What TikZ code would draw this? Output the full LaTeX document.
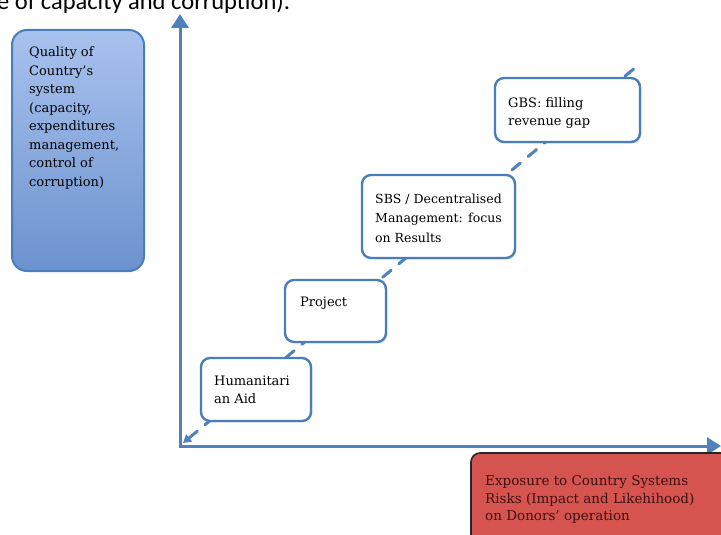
\documentclass[tikz,border=0pt]{standalone}
\usepackage{fontspec}
\setmainfont{DejaVu Serif}
\newfontfamily\topfont{Carlito}
\usetikzlibrary{arrows.meta,shadows}
\definecolor{axisblue}{RGB}{79,129,189}
\definecolor{boxblue}{RGB}{74,126,187}
\definecolor{lboxtop}{RGB}{168,194,238}
\definecolor{lboxbot}{RGB}{108,146,206}
\definecolor{redfill}{RGB}{214,84,80}
\definecolor{redtext}{RGB}{60,15,15}
\tikzset{
  axisline/.style={draw=axisblue, line width=3pt, -{Triangle[length=14pt,width=17pt]}},
  stepline/.style={draw=axisblue, line width=3pt, dash pattern=on 11pt off 10pt, line cap=round},
  wbox/.style={draw=boxblue, line width=2.4pt, fill=white, rounded corners=9pt, inner sep=0pt,
    drop shadow={opacity=0.18, shadow xshift=1.5pt, shadow yshift=-1.5pt}},
  txt/.style={align=left, inner sep=0pt, anchor=north west, text=black, font=\fontsize{13}{18}\selectfont},
}
\begin{document}
\begin{tikzpicture}[x=1pt,y=-1pt]
\useasboundingbox (0,0) rectangle (721,535);
% partial text at top
\node[anchor=base west, inner sep=0pt, font=\topfont\fontsize{24.5}{28}\selectfont] (toptxt) at (-3,10) {e of capacity and corruption).};
% axes
\coordinate (O) at (180,446);
\coordinate (ytop) at (180,14);
\coordinate (xend) at (721,446);
\draw[axisline] (O) -- (ytop);
\draw[axisline] (178.5,446) -- (xend);
% diagonal dashed line
\coordinate (d0) at (183,443);
\coordinate (d1) at (636,67);
\draw[stepline, {Triangle[length=8pt,width=9pt]}-] (d0) -- (d1);
% left box
\node[draw=boxblue, line width=2pt, rounded corners=15pt, top color=lboxtop, bottom color=lboxbot,
  minimum width=132pt, minimum height=241pt, inner sep=0pt] (lbox) at (78,150.5) {};
\node[txt, font=\fontsize{13}{18.5}\selectfont] (ltxt) at (29,46.5) {Quality of\\Country's\\system\\(capacity,\\expenditures\\management,\\control of\\corruption)};
% step boxes
\node[wbox, minimum width=110pt, minimum height=63pt] (hum) at (256,389.5) {};
\node[txt] (humtxt) at (214,375.3) {Humanitari\\an Aid};
\node[wbox, minimum width=101pt, minimum height=62pt] (proj) at (335.5,311) {};
\node[txt] (projtxt) at (300,296.3) {Project};
\node[wbox, minimum width=153pt, minimum height=83pt] (sbs) at (438.5,216.5) {};
\node[txt, font=\fontsize{12.5}{19.5}\selectfont] (sbstxt) at (375,193.5) {SBS / Decentralised\\Management: focus\\on Results};
\node[wbox, minimum width=145pt, minimum height=64pt] (gbs) at (567.5,110) {};
\node[txt] (gbstxt) at (508,97.2) {GBS: filling\\revenue gap};
% red box
\node[draw=black!85, line width=1.6pt, fill=redfill, rounded corners=9pt, minimum width=270pt, minimum height=95pt,
  inner sep=0pt] (rbox) at (606,500.5) {};
\node[txt, text=redtext, font=\fontsize{13.5}{17.8}\selectfont] (rtxt) at (485,475) {Exposure to Country Systems\\Risks (Impact and Likehihood)\\on Donors' operation};
\end{tikzpicture}
\end{document}
